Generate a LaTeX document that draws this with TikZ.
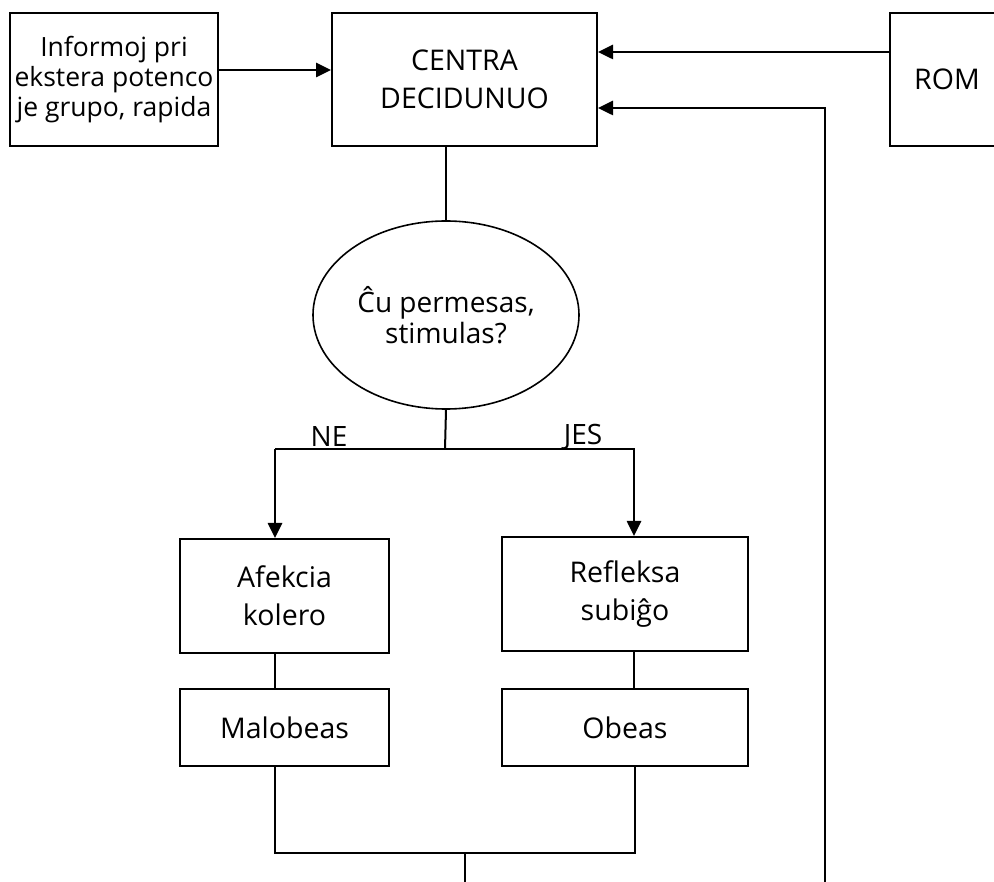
\documentclass[tikz,border=0pt]{standalone}
\usepackage{fontspec}
\setmainfont{Open Sans}
\usetikzlibrary{arrows.meta,shapes.geometric}
\begin{document}
\begin{tikzpicture}[x=1pt,y=-1pt,
  box/.style={draw,line width=2pt,rectangle,inner sep=0pt,align=center,font=\fontsize{28.5}{38}\selectfont},
  conn/.style={line width=2pt},
  arr/.style={line width=2.6pt,-{Triangle[length=15pt,width=14pt]}},
  lbl/.style={font=\fontsize{28}{34}\selectfont,inner sep=0pt}]
\useasboundingbox (0,0) rectangle (994,882);
\node[box,minimum width=208pt,minimum height=133pt,font=\fontsize{26.5}{30}\selectfont] (info) at (114,79.5) {Informoj pri\\ekstera potenco\\je grupo, rapida};
\node[box,minimum width=265pt,minimum height=133pt] (centra) at (464.5,79.5) {CENTRA\\DECIDUNUO};
\node[box,minimum width=114pt,minimum height=133pt] (rom) at (947,79.5) {ROM};
\node[draw,ellipse,line width=1.6pt,minimum width=266pt,minimum height=188pt,inner sep=0pt,align=center,font=\fontsize{28}{31}\selectfont] (dec) at (446,315) {Ĉu permesas,\\stimulas?};
\node[box,minimum width=209pt,minimum height=114pt] (afk) at (284.5,596) {Afekcia\\kolero};
\node[box,minimum width=246pt,minimum height=114pt] (ref) at (625,594) {Refleksa\\subiĝo};
\node[box,minimum width=209pt,minimum height=77pt] (mal) at (284.5,727.5) {Malobeas};
\node[box,minimum width=246pt,minimum height=77pt] (obe) at (625,727.5) {Obeas};
\node[lbl] (ne) at (329,437) {NE};
\node[lbl] (jes) at (583,437) {JES};
\coordinate (split) at (445,449);
\coordinate (join) at (465,853);
\coordinate (feed) at (825,882);
\coordinate (out) at (465,882);
% arrows at top
\draw[arr] (info.east |- 0,70) -- (centra.west |- 0,70);
\draw[arr] (rom.west |- 0,52) -- (centra.east |- 0,52);
\draw[arr] (feed) -- (feed |- 0,108) -- (centra.east |- 0,108);
% decision
\draw[conn] (centra.south -| dec.north) -- (dec.north);
\draw[conn] (dec.south) -- (split);
\draw[conn] (split -| 275,0) -- (split -| 635,0);
\draw[arr] (split -| 275,0) -- (afk.north -| 275,0);
\draw[arr] (split -| 634,0) -- (ref.north -| 634,0);
% lower
\draw[conn] (afk.south -| 275,0) -- (mal.north -| 275,0);
\draw[conn] (ref.south -| 634,0) -- (obe.north -| 634,0);
\draw[conn] (mal.south -| 275,0) -- (join -| 275,0) -- (join -| 635,0) -- (obe.south -| 635,0);
\draw[conn] (join) -- (out);
\end{tikzpicture}
\end{document}
